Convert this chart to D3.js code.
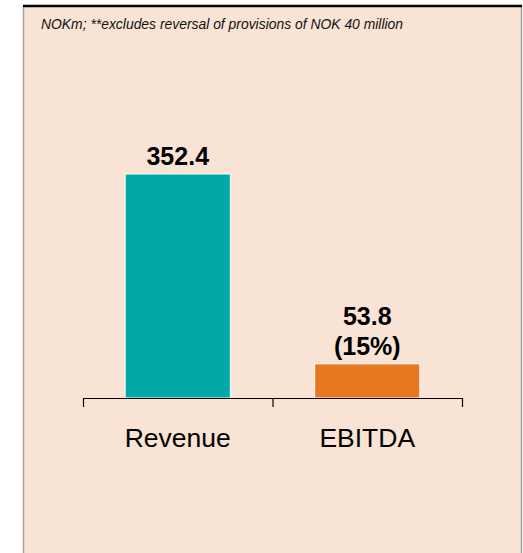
<!DOCTYPE html>
<html>
<head>
<meta charset="utf-8">
<script src="https://cdn.jsdelivr.net/npm/d3@7"></script>
<style>
  body { margin: 0; background: #fff; }
  svg { display: block; font-family: Arial, "Liberation Sans", sans-serif; }
</style>
</head>
<body>
<div id="chart"></div>
<script>
// chart data
const categories = ['Revenue', 'EBITDA'];
const values = [352.4, 53.8];
const valueLabels = [['352.4'], ['53.8', '(15%)']];
const barColors = ['#00A9A5', '#E87722'];
const note = 'NOKm; **excludes reversal of provisions of NOK 40 million';

const width = 523;
const height = 553;

const svg = d3.select('#chart')
  .append('svg')
  .attr('width', width)
  .attr('height', height);

// panel background
svg.append('rect')
  .attr('x', 23.5)
  .attr('y', 6)
  .attr('width', 498)
  .attr('height', 560)
  .attr('fill', '#F9E3D4')
  .attr('stroke', '#A8A29E')
  .attr('stroke-width', 1.5);

svg.append('line')
  .attr('x1', 23)
  .attr('x2', 522)
  .attr('y1', 6)
  .attr('y2', 6)
  .attr('stroke', '#000')
  .attr('stroke-width', 2.5);

svg.append('text')
  .attr('x', 41)
  .attr('y', 29)
  .attr('font-size', 13.9)
  .attr('font-style', 'italic')
  .attr('fill', '#111')
  .text(note);

// scales
const xScale = d3.scaleBand().domain(categories).range([83, 462]).padding(0);
const yScale = d3.scaleLinear().domain([0, 352.4]).range([398, 174]);

const barWidth = xScale.bandwidth() * 0.555;

// bars
svg.append('g')
  .selectAll('rect')
  .data(values)
  .join('rect')
  .attr('x', (d, i) => xScale(categories[i]) + (xScale.bandwidth() - barWidth) / 2)
  .attr('y', d => yScale(d))
  .attr('width', barWidth)
  .attr('height', d => yScale(0) - yScale(d))
  .attr('fill', (d, i) => barColors[i])
  .attr('stroke', '#fff')
  .attr('stroke-width', 1);

// value labels
values.forEach((v, i) => {
  const lines = valueLabels[i];
  const cx = xScale(categories[i]) + xScale.bandwidth() / 2;
  const t = svg.append('text')
    .attr('text-anchor', 'middle')
    .attr('font-size', 25)
    .attr('font-weight', 'bold')
    .attr('fill', '#000');
  lines.forEach((s, j) => {
    t.append('tspan')
      .attr('x', cx)
      .attr('y', yScale(v) - 9 - (lines.length - 1 - j) * 30)
      .text(s);
  });
});

// axis with ticks at band edges
const axis = svg.append('g');
axis.append('line')
  .attr('x1', xScale.range()[0])
  .attr('x2', xScale.range()[1])
  .attr('y1', 398.5)
  .attr('y2', 398.5)
  .attr('stroke', '#000')
  .attr('stroke-width', 1.2);

const edges = categories.map(c => xScale(c)).concat([xScale.range()[1]]);
axis.selectAll('.tick')
  .data(edges)
  .join('line')
  .attr('class', 'tick')
  .attr('x1', d => d + 0.5)
  .attr('x2', d => d + 0.5)
  .attr('y1', 398)
  .attr('y2', 407)
  .attr('stroke', '#000')
  .attr('stroke-width', 1.2);

axis.selectAll('.cat')
  .data(categories)
  .join('text')
  .attr('class', 'cat')
  .attr('x', d => xScale(d) + xScale.bandwidth() / 2)
  .attr('y', 447)
  .attr('text-anchor', 'middle')
  .attr('font-size', 26.5)
  .attr('fill', '#000')
  .text(d => d);
</script>
</body>
</html>
